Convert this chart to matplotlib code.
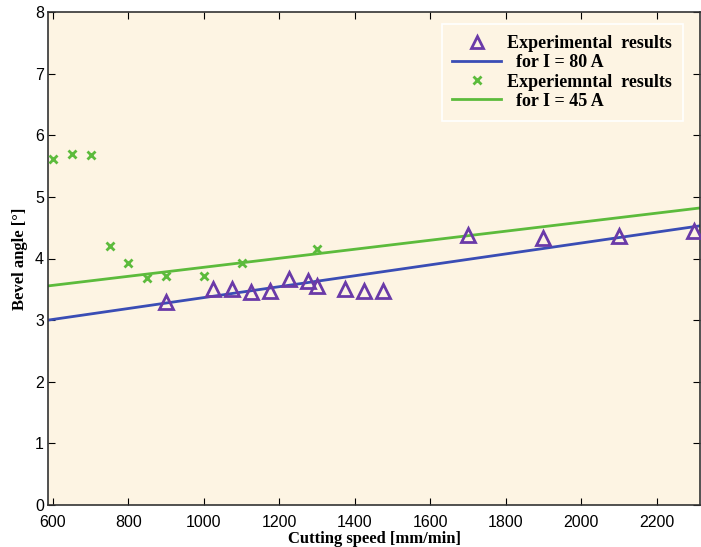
import matplotlib
matplotlib.use("Agg")
import matplotlib.pyplot as plt

# experimental data, I = 80 A
speed_80 = [900, 1025, 1075, 1125, 1175, 1225, 1275, 1300, 1375, 1425, 1475, 1700, 1900, 2100, 2300]
angle_80 = [3.30, 3.51, 3.50, 3.45, 3.48, 3.67, 3.63, 3.56, 3.50, 3.47, 3.47, 4.38, 4.33, 4.37, 4.45]

# experimental data, I = 45 A
speed_45 = [600, 650, 700, 750, 800, 850, 900, 1000, 1100, 1300]
angle_45 = [5.62, 5.70, 5.68, 4.20, 3.93, 3.68, 3.71, 3.71, 3.92, 4.16]

# fitted lines (end points)
fit_x = [587, 2315]
fit_80 = [3.00, 4.53]
fit_45 = [3.555, 4.82]

bg = "#fdf4e3"
purple = "#6a3aa8"
blue = "#3a4db5"
green = "#5cbb3c"

fig = plt.figure(figsize=(7.01, 5.47), dpi=100)
ax = fig.add_axes([48/701, 42/547, 652/701, 493/547])
ax.set_facecolor(bg)

ax.plot(fit_x, fit_80, color=blue, lw=2.0, zorder=2)
ax.plot(fit_x, fit_45, color=green, lw=2.0, zorder=2)
ax.plot(speed_80, angle_80, ls="none", marker="^", ms=10, mfc="none", mec=purple, mew=2.0, zorder=3, clip_on=False)
ax.plot(speed_45, angle_45, ls="none", marker="x", ms=6, mec=green, mew=2.0, zorder=3)

ax.set_xlim(587, 2315)
ax.set_ylim(0, 8)
ax.set_xticks(range(600, 2201, 200))
ax.set_yticks(range(0, 9))
ax.tick_params(direction="in", top=True, right=True, length=5, labelsize=11.5)
ax.tick_params(axis="x", pad=7)
ax.tick_params(axis="y", pad=3)
for lab in ax.get_xticklabels() + ax.get_yticklabels():
    lab.set_family("Liberation Sans")
for s in ax.spines.values():
    s.set_linewidth(1.2)
    s.set_color("#333333")

ax.set_xlabel("Cutting speed [mm/min]", family="Liberation Serif", fontweight="bold", fontsize=12, labelpad=1)
ax.set_ylabel("Bevel angle [°]", family="Liberation Serif", fontweight="bold", fontsize=12, labelpad=5)

# legend with two-line entries
h1, = ax.plot([], [], ls="none", marker="^", ms=9, mfc="none", mec=purple, mew=2.0)
h2, = ax.plot([], [], color=blue, lw=2.0)
h3, = ax.plot([], [], ls="none", marker="x", ms=6, mec=green, mew=2.0)
h4, = ax.plot([], [], color=green, lw=2.0)
leg = ax.legend([h1, h2, h3, h4],
                ["Experimental  results", "  for I = 80 A", "Experiemntal  results", "  for I = 45 A"],
                loc="upper right", bbox_to_anchor=(0.988, 0.993),
                prop={"family": "Liberation Serif", "weight": "bold", "size": 13},
                handlelength=2.7, labelspacing=0.12, borderpad=0.6, handletextpad=0.35,
                fancybox=False, framealpha=1, facecolor=bg, edgecolor="#ffffff")
leg.get_frame().set_linewidth(1.2)

fig.savefig("out.png", dpi=100, facecolor="white")
